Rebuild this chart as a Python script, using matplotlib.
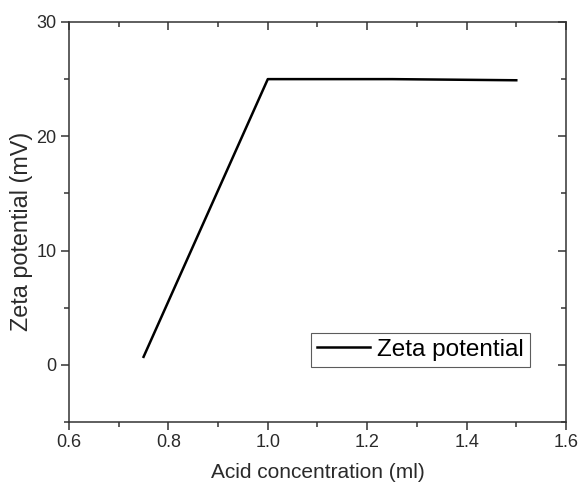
import numpy as np, matplotlib
matplotlib.use('Agg')
import matplotlib.pyplot as plt
from matplotlib.ticker import MultipleLocator

plt.rcParams['font.family'] = ['Liberation Sans', 'DejaVu Sans']

acid = [0.75, 1.0, 1.25, 1.5]
zeta = [0.7, 25.0, 25.0, 24.9]

fig = plt.figure(figsize=(5.79, 4.82), dpi=100)
ax = fig.add_axes([0.1192, 0.1245, 0.8583, 0.8299])
ax.plot(acid, zeta, '-', color='black', lw=1.8, label='Zeta potential')

ax.set_xlim(0.6, 1.6); ax.set_ylim(-5, 30)
ax.set_xticks(np.arange(0.6, 1.61, 0.2))
ax.set_xticklabels(['0.6', '0.8', '1.0', '1.2', '1.4', '1.6'])
ax.xaxis.set_minor_locator(MultipleLocator(0.1))
ax.yaxis.set_major_locator(MultipleLocator(10)); ax.yaxis.set_minor_locator(MultipleLocator(5))

ink = '#333333'
for sp in ax.spines.values(): sp.set_color(ink); sp.set_linewidth(1.1)
ax.tick_params(which='both', direction='out', colors=ink, labelcolor='#2a2a2a', labelsize=13, width=1.1)
ax.tick_params(which='major', length=6, pad=3)
ax.tick_params(which='minor', length=3.5)

# inward ticks on top / right via twin axes
ax2 = ax.twiny(); ax3 = ax.twinx()
ax2.set_xlim(ax.get_xlim()); ax3.set_ylim(ax.get_ylim())
ax2.xaxis.set_major_locator(MultipleLocator(0.2)); ax2.xaxis.set_minor_locator(MultipleLocator(0.1))
ax3.yaxis.set_major_locator(MultipleLocator(10)); ax3.yaxis.set_minor_locator(MultipleLocator(5))
for a in (ax2, ax3):
    a.tick_params(which='both', direction='in', colors=ink, width=1.1, labeltop=False, labelright=False,
                  labelbottom=False, labelleft=False)
    a.tick_params(which='major', length=6); a.tick_params(which='minor', length=3.5)
    for sp in a.spines.values(): sp.set_visible(False)
ax2.tick_params(which='both', bottom=False, top=True)
ax3.tick_params(which='both', left=False, right=True)

ax.set_xlabel('Acid concentration (ml)', fontsize=15, color='#2a2a2a', labelpad=8)
ax.set_ylabel('Zeta potential (mV)', fontsize=16.8, color='#2a2a2a')
ax.yaxis.set_label_coords(-0.072, 0.4775)

lg = ax.legend(loc='lower right', bbox_to_anchor=(0.928, 0.138), fontsize=17.5, frameon=True,
               fancybox=False, edgecolor='#333333', handlelength=2.2, handletextpad=0.3,
               borderpad=0.25, borderaxespad=0)
lg.get_frame().set_linewidth(0.8)

fig.savefig('out.png', dpi=100)
